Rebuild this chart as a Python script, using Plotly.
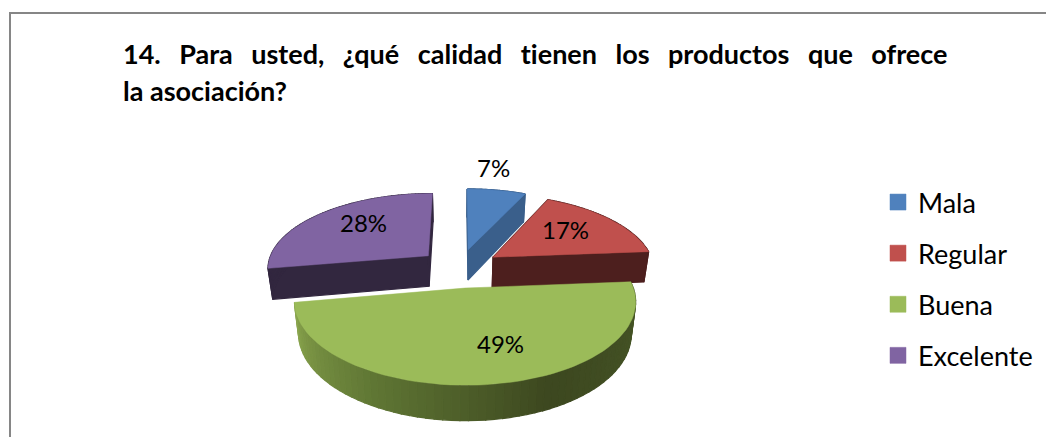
import numpy as np
import plotly.graph_objects as go

categories = ["Mala", "Regular", "Buena", "Excelente"]
values = [7, 17, 49, 28]
tops = ["#4f81bd", "#c0504d", "#9bbb59", "#8064a2"]
sides = ["#3a5f8b", "#4d1f1e", None, "#32273f"]
title_lines = ["14. Para usted, ¿qué calidad tienen los productos que ofrece", "la asociación?"]
FONT = "Lato"

# projection parameters (page pixels)
CX, CY, RX, RY, K, DEPTH, SHRINK = 459.5, 268, 174, 81, 0.165, 31, 0.975
EXPLODE, RADIUS = 0.24, 0.93

def project(u, v, low=False):
    s = 1 / (1 - K * np.asarray(v))
    x = RX * np.asarray(u) * s
    y = RY * np.asarray(v) * s
    if low:
        return CX + x * SHRINK, CY + y * SHRINK + DEPTH * s
    return CX + x, CY + y

total = sum(values)
edges = np.concatenate([[0], np.cumsum(values)]) / total * 360

def slice_uv(i, n=70):
    a0, a1 = edges[i], edges[i + 1]
    mid = np.radians((a0 + a1) / 2)
    ou, ov = EXPLODE * np.sin(mid), -EXPLODE * np.cos(mid)
    th = np.radians(np.linspace(a0, a1, n))
    u = np.concatenate([[ou], ou + RADIUS * np.sin(th), [ou]])
    v = np.concatenate([[ov], ov - RADIUS * np.cos(th), [ov]])
    return u, v, ou, ov, mid

def lerp_color(t):
    stops = [(0.0, (72, 88, 40)), (0.4, (61, 72, 32)), (0.7, (95, 118, 52)), (1.0, (138, 165, 78))]
    for (t0, c0), (t1, c1) in zip(stops, stops[1:]):
        if t <= t1:
            f = (t - t0) / (t1 - t0)
            return "rgb(%d,%d,%d)" % tuple(c0[j] + (c1[j] - c0[j]) * f for j in range(3))
    return "rgb(138,165,78)"

fig = go.Figure()
for i in [3, 0, 1, 2]:
    u, v, ou, ov, mid = slice_uv(i)
    tx, ty = project(u, v)
    bx, by = project(u, v, low=True)
    for j in range(len(u) - 1):
        if sides[i]:
            c = sides[i]
        elif 1 <= j < len(u) - 2:
            c = lerp_color((j - 1) / (len(u) - 4))
        else:
            continue
        fig.add_trace(go.Scatter(x=[tx[j], tx[j + 1], bx[j + 1], bx[j], tx[j]],
                                 y=[ty[j], ty[j + 1], by[j + 1], by[j], ty[j]],
                                 mode="lines", fill="toself", fillcolor=c,
                                 line=dict(color=c, width=1.2), hoverinfo="skip", showlegend=False))
    fig.add_trace(go.Scatter(x=tx, y=ty, mode="lines", fill="toself", fillcolor=tops[i],
                             line=dict(color=tops[i], width=0.5), hoverinfo="skip", showlegend=False))

for i, name in enumerate(categories):
    fig.add_trace(go.Scatter(x=[None], y=[None], mode="markers", name=name, legendgroup=name,
                             marker=dict(symbol="square", size=16, color=tops[i],
                                         line=dict(color=tops[i], width=0.5))))

# label anchors: radial fraction along each slice bisector, with a small nudge
label_r = [1.12, 0.66, 0.62, 0.62]
label_nudge = [(-6, 16), (-7, 2), (21, 0), (4, 6)]
for i in range(4):
    _, _, ou, ov, mid = slice_uv(i)
    lx, ly = project(ou + label_r[i] * RADIUS * np.sin(mid), ov - label_r[i] * RADIUS * np.cos(mid))
    fig.add_annotation(x=float(lx), y=float(ly), text=f"{values[i]}%", showarrow=False,
                       xshift=label_nudge[i][0], yshift=label_nudge[i][1],
                       font=dict(family=FONT, size=24, color="#000000"))

for k, line in enumerate(title_lines):
    fig.add_annotation(x=121, y=53 + 37 * k, text=f"<b>{line}</b>", showarrow=False, xanchor="left",
                       align="left", font=dict(family=FONT, size=27, color="#000000"))

fig.update_layout(
    width=1046, height=437, margin=dict(l=0, r=0, t=0, b=0),
    paper_bgcolor="#ffffff", plot_bgcolor="#ffffff",
    xaxis=dict(range=[0, 1046], visible=False, fixedrange=True),
    yaxis=dict(range=[437, 0], visible=False, fixedrange=True),
    legend=dict(x=878 / 1046, y=1 - 178 / 437, xanchor="left", yanchor="top", tracegroupgap=13,
                font=dict(family=FONT, size=27, color="#000000"), bgcolor="rgba(0,0,0,0)"),
    shapes=[dict(type="rect", xref="x", yref="y", x0=10, y0=13, x1=1100, y1=500,
                 line=dict(color="#868686", width=2), layer="below")],
)
# The reference's first title line is justified: widen its word spacing only.
post = """
document.body.style.margin='0';document.body.style.overflow='hidden';
document.querySelectorAll('.annotation-text').forEach(function(t){
  if (t.textContent.indexOf('14.') === 0) { t.style.wordSpacing = '11.9px'; }
  t.style.fontVariantLigatures = 'none';
});
"""
fig.write_html("out.html", post_script=post, config={"displayModeBar": False})
